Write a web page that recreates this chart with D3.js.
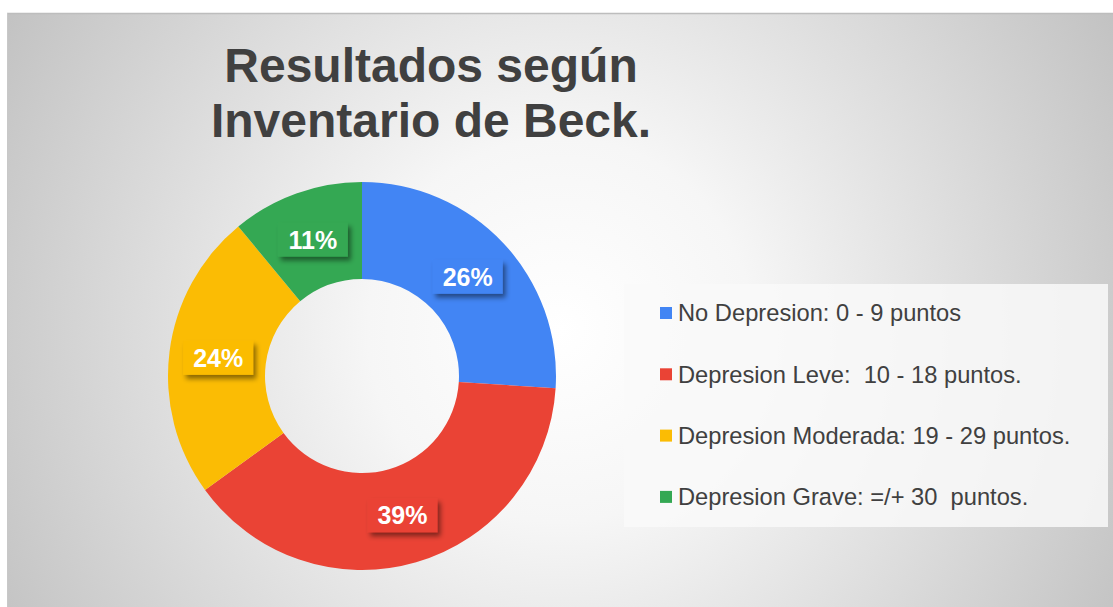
<!DOCTYPE html>
<html><head><meta charset="utf-8">
<script src="https://cdn.jsdelivr.net/npm/d3@7"></script>
<style>body{margin:0;background:#fff;}svg{display:block;}</style>
</head><body>
<script>
const categories = ["No Depresion: 0 - 9 puntos","Depresion Leve:  10 - 18 puntos.","Depresion Moderada: 19 - 29 puntos.","Depresion Grave: =/+ 30  puntos."];
const values = [26, 39, 24, 11];
const labels = ["26%","39%","24%","11%"];
const colors = ["#4285F4","#EA4335","#FBBC04","#34A853"];
const titleLines = ["Resultados según","Inventario de Beck."];

const FONT='"Liberation Sans"';
const W=1113,H=607;
const svg=d3.select("body").append("svg").attr("width",W).attr("height",H);
const defs=svg.append("defs");
const rg=defs.append("radialGradient").attr("id","bg").attr("gradientUnits","userSpaceOnUse")
  .attr("cx",560).attr("cy",330).attr("r",640);
rg.append("stop").attr("offset","0").attr("stop-color","#ffffff");
rg.append("stop").attr("offset","0.3").attr("stop-color","#f6f6f6");
rg.append("stop").attr("offset","1").attr("stop-color","#c2c2c2");
const f=defs.append("filter").attr("id","sh").attr("x","-30%").attr("y","-30%").attr("width","170%").attr("height","180%");
f.append("feDropShadow").attr("dx",3).attr("dy",4).attr("stdDeviation",2.5).attr("flood-color","#000").attr("flood-opacity",0.45);

svg.append("rect").attr("x",7).attr("y",13).attr("width",W-7).attr("height",H-13).attr("fill","url(#bg)");
svg.append("line").attr("x1",7).attr("x2",W).attr("y1",13.5).attr("y2",13.5).attr("stroke","#bdbdbd").attr("stroke-width",1.5);
svg.append("line").attr("x1",7.5).attr("x2",7.5).attr("y1",13).attr("y2",H).attr("stroke","#c8c8c8").attr("stroke-width",1);

svg.append("g").selectAll("text").data(titleLines).join("text")
  .attr("x",431).attr("y",(d,i)=>82+i*55).attr("text-anchor","middle")
  .style("font-family",FONT).style("font-weight","bold").style("font-size","48px")
  .attr("fill","#404040").text(d=>d);

const cx=362,cy=376,R=194,r=97;
const pie=d3.pie().sort(null).value(d=>d);
const arcs=pie(values);
const arc=d3.arc().innerRadius(r).outerRadius(R);
const g=svg.append("g").attr("transform",`translate(${cx},${cy})`);
g.selectAll("path").data(arcs).join("path").attr("d",arc).attr("fill",(d,i)=>colors[i]);

const labArc=d3.arc().innerRadius(145).outerRadius(145);
const lg=g.selectAll("g.lab").data(arcs).join("g").attr("class","lab")
  .attr("transform",d=>{const c=labArc.centroid(d);return `translate(${c[0]},${c[1]})`;});
lg.append("rect").attr("x",-35).attr("y",-17).attr("width",70).attr("height",34)
  .attr("fill",(d,i)=>colors[i]).attr("filter","url(#sh)");
lg.append("text").attr("text-anchor","middle").attr("dy","0.36em")
  .style("font-family",FONT).style("font-weight","bold").style("font-size","25px")
  .attr("fill","#fff").text((d,i)=>labels[i]);

svg.append("rect").attr("x",624).attr("y",284).attr("width",484).attr("height",243).attr("fill","#f9f9f9").attr("opacity",0.85);
const leg=svg.append("g").selectAll("g").data(categories).join("g")
  .attr("transform",(d,i)=>`translate(660,${313+i*61.3})`);
leg.append("rect").attr("x",0).attr("y",-6).attr("width",12).attr("height",12).attr("fill",(d,i)=>colors[i]);
leg.append("text").attr("x",18).attr("dy","0.35em")
  .style("font-family",FONT).style("font-size","23.7px").style("white-space","pre")
  .attr("fill","#404040").text(d=>d);
</script>
</body></html>
